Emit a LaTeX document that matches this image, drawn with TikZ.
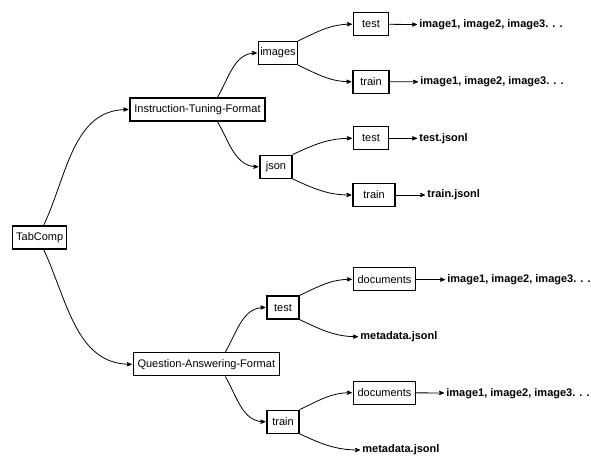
\documentclass[tikz,border=0pt]{standalone}
\usepackage{fontspec}
\setmainfont{Liberation Sans}
\usetikzlibrary{arrows}

\begin{document}
\begin{tikzpicture}[->,>=stealth',shorten >=1pt,x=1pt,y=-1pt,
                    line width=0.8pt,font=\fontsize{11}{13}\selectfont]
      \tikzstyle{box}=[draw,line width=1.3pt,fill=white,minimum height=23pt,inner xsep=1.5pt]
      \tikzstyle{files}=[anchor=west,inner sep=1pt,font=\fontsize{11}{13}\selectfont\bfseries]

      \useasboundingbox (0,0) rectangle (591,457);

      \node[box,minimum width=54]  (tab)      at (39.7,237.5) {TabComp};
      \node[box,minimum width=135] (itf)      at (197.5,109.5) {Instruction-Tuning-Format};
      \node[box,minimum width=146] (qa)       at (206.3,364.3) {Question-Answering-Format};

      \node[box,minimum width=39]  (images)   at (278,53)    {images};
      \node[box,minimum width=32]  (json)     at (276,166.7) {json};
      \node[box,minimum width=35]  (imgtest)  at (371,24.2)  {test};
      \node[box,minimum width=36]  (imgtrain) at (371,81.7)  {train};
      \node[box,minimum width=35]  (jstest)   at (371,138.3) {test};
      \node[box,minimum width=42]  (jstrain)  at (374,195)   {train};

      \node[box,minimum width=32]  (qatest)   at (283,307.5) {test};
      \node[box,minimum width=32]  (qatrain)  at (283,421.7) {train};
      \node[box,minimum width=62]  (testdocs) at (384.5,279.3) {documents};
      \node[box,minimum width=62]  (traindocs) at (384.5,392.7) {documents};

      \node[files] (imgtestfiles)  at (418,25)    {image1, image2, image3. . .};
      \node[files] (imgtrainfiles) at (419,82)    {image1, image2, image3. . .};
      \node[files] (testjsonl)     at (418,138.3) {test.jsonl};
      \node[files] (trainjsonl)    at (426,195)   {train.jsonl};
      \node[files] (testdocfiles)  at (446,280)   {image1, image2, image3. . .};
      \node[files] (testmeta)      at (359,336.7) {metadata.jsonl};
      \node[files] (traindocfiles) at (445,393.3) {image1, image2, image3. . .};
      \node[files] (trainmeta)     at (361,450)   {metadata.jsonl};

      \path ([xshift=4pt]tab.north)  edge [out=65,in=180]  (itf.west)
            ([xshift=4pt]tab.south)  edge [out=-65,in=180] (qa.west)
            ([xshift=20pt]itf.north) edge [out=60,in=180]  (images.west)
            ([xshift=20pt]itf.south) edge [out=-60,in=180] (json.west)
            ([xshift=19pt]qa.north)  edge [out=60,in=180]  (qatest.west)
            ([xshift=19pt]qa.south)  edge [out=-60,in=180] (qatrain.west);

      \path (images.north east)  edge [out=25,in=180]  (imgtest.west)
            (images.south east)  edge [out=-25,in=180] (imgtrain.west)
            (json.north east)    edge [out=25,in=180]  (jstest.west)
            (json.south east)    edge [out=-25,in=180] (jstrain.west)
            (qatest.north east)  edge [out=25,in=180]  (testdocs.west)
            (qatest.south east)  edge [out=-25,in=180] (testmeta.west)
            (qatrain.north east) edge [out=25,in=180]  (traindocs.west)
            (qatrain.south east) edge [out=-25,in=180] (trainmeta.west);

      \path (imgtest)   edge (imgtestfiles)
            (imgtrain)  edge (imgtrainfiles)
            (jstest)    edge (testjsonl)
            (jstrain)   edge (trainjsonl)
            (testdocs)  edge (testdocfiles)
            (traindocs) edge (traindocfiles);

    \end{tikzpicture}
\end{document}
